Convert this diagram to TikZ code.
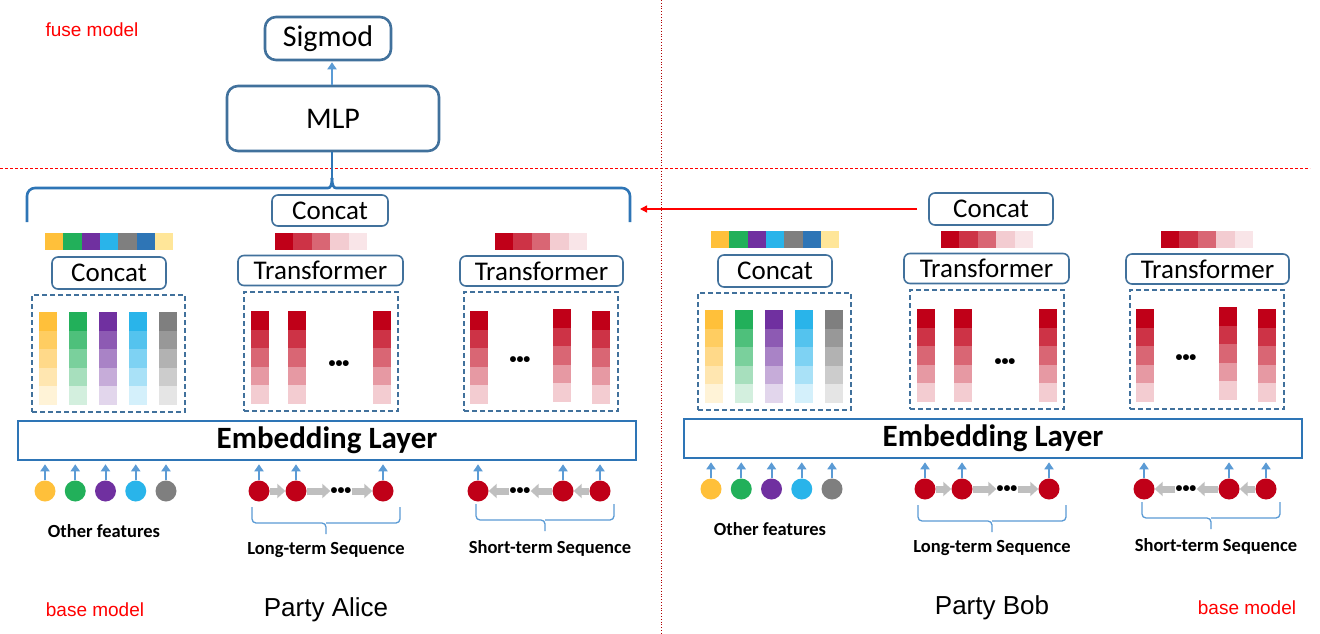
\documentclass[tikz,border=0pt]{standalone}
\usepackage{fontspec}
\setmainfont{Carlito}
\newfontfamily\labelfont{Liberation Sans}
\usepackage{tikz}
\usetikzlibrary{arrows.meta,positioning}

\definecolor{boxblue}{HTML}{41719C}
\definecolor{layerblue}{HTML}{2E75B6}
\definecolor{arrowblue}{HTML}{5B9BD5}
\definecolor{flowgray}{HTML}{BFBFBF}
\definecolor{fyellow}{HTML}{FFC03A}
\definecolor{fgreen}{HTML}{22B05A}
\definecolor{fpurple}{HTML}{7030A0}
\definecolor{fcyan}{HTML}{29B4EA}
\definecolor{fgray}{HTML}{7F7F7F}
\definecolor{fblue}{HTML}{2E75B6}
\definecolor{flight}{HTML}{FFE699}
\definecolor{seqred}{HTML}{C00018}
\definecolor{linkred}{HTML}{FF0000}
\definecolor{splitred}{HTML}{B00000}

% horizontal strip of feature colours
\newcommand{\featstrip}[2]{%
  \foreach \c [count=\k from 0] in {fyellow,fgreen,fpurple,fcyan,fgray,fblue,flight}
    \fill[\c] (#1+\k*18.3,#2) rectangle ++(18.3,17);}
% horizontal strip of sequence shades
\newcommand{\seqstrip}[2]{%
  \foreach \lvl [count=\k from 0] in {100,80,60,20,10}
    \fill[seqred!\lvl] (#1+\k*18.4,#2) rectangle ++(18.4,17);}
% vertical embedding column
\newcommand{\featcol}[3]{%
  \foreach \lvl [count=\k from 0] in {100,80,60,40,20}
    \fill[#3!\lvl] (#1,#2+\k*18.6) rectangle ++(18,18.6);}
% brace under a sequence
\newcommand{\seqbrace}[4]{%
  \draw[sbrace] (#1,#3) |- (#4,#3+16) -- (#4,#3+27);
  \draw[sbrace] (#2,#3) |- (#4,#3+16);}

\begin{document}
\begin{tikzpicture}[x=1pt, y=-1pt,
    box/.style={draw=boxblue, line width=1.6pt, rounded corners=6pt, fill=white, inner sep=0pt, font=\fontsize{27}{30}\selectfont},
    bigbox/.style={box, line width=2.6pt, rounded corners=11pt},
    layer/.style={draw=layerblue, line width=2.6pt, minimum width=618pt, minimum height=39pt, inner sep=0pt, font=\bfseries\fontsize{31}{34}\selectfont},
    group/.style={draw=boxblue, line width=1.3pt, dash pattern=on 5pt off 3pt, minimum width=154pt, minimum height=119pt, inner sep=0pt},
    token/.style={circle, minimum size=21pt, inner sep=0pt},
    dots/.style={inner sep=0pt, font=\bfseries\fontsize{14}{14}\selectfont},
    up/.style={draw=arrowblue, line width=2pt, -{Triangle[length=7pt,width=9pt]}, shorten >=3pt},
    flow/.style={draw=flowgray, line width=7pt, -{Triangle[length=8pt,width=14pt]}},
    sbrace/.style={draw=arrowblue, line width=1.3pt, rounded corners=4pt},
    tag/.style={font=\labelfont\fontsize{19}{22}\selectfont, text=linkred},
    caption/.style={font=\bfseries\fontsize{18.5}{22}\selectfont},
    party/.style={font=\labelfont\fontsize{26}{30}\selectfont}
]
\useasboundingbox[fill=white] (0,0) rectangle (1320,634);

% split lines
\draw[linkred, line width=0.8pt, dash pattern=on 3pt off 2pt] (0,168) -- (1310,168);
\draw[splitred, line width=0.8pt, dotted] (661,0) -- (661,634);

% fuse model
\node[tag] (fuse) at (92,30) {fuse model};
\node[bigbox, minimum width=126pt, minimum height=43pt, font=\fontsize{30}{34}\selectfont] (sig) at (328,38.5) {Sigmod};
\node[bigbox, minimum width=212pt, minimum height=65pt, font=\fontsize{30}{34}\selectfont] (mlp) at (333,118.5) {MLP};
\draw[up, shorten >=1pt] (mlp.north -| 332,0) -- (sig.south -| 332,0);
\coordinate (tip) at (332,178);
\draw[layerblue, line width=2.6pt, rounded corners=8pt] (27,222) -- (27,188) -- (320,188) .. controls (330,188) and (332,186) .. (tip);
\draw[layerblue, line width=2.6pt, rounded corners=8pt] (630,222) -- (630,188) -- (344,188) .. controls (334,188) and (332,186) .. (tip);
\draw[layerblue, line width=2.6pt] (mlp.south -| tip) -- (tip);
\node[box, minimum width=116pt, minimum height=31pt] (fcat) at (330,210.5) {Concat};

% base models
\foreach \p/\dx/\dy/\who/\bx in {alice/0/0/Alice/95, bob/666/-2/Bob/581} {
\begin{scope}[shift={(\dx,\dy)}]
  % other features
  \featstrip{45}{233}
  \node[box, minimum width=114pt, minimum height=32pt] (\p-cat) at (109,273) {Concat};
  \node[group, minimum width=153pt, minimum height=117pt] (\p-fg) at (108.5,353.5) {};
  \foreach \c [count=\i from 0] in {fyellow,fgreen,fpurple,fcyan,fgray}
    \featcol{39+\i*30}{312}{\c};
  % long-term
  \seqstrip{275}{233}
  \node[box, minimum width=165pt, minimum height=30pt] (\p-ltr) at (320.5,270.5) {Transformer};
  \node[group] (\p-lg) at (321,351.5) {};
  \foreach \x in {251,288,373} \featcol{\x}{311}{seqred};
  \node[dots] (\p-lgd) at (339,364) {•••};
  % short-term
  \seqstrip{495}{233}
  \node[box, minimum width=163pt, minimum height=30pt] (\p-str) at (541.5,271) {Transformer};
  \node[group] (\p-sg) at (541,351.5) {};
  \featcol{470}{311}{seqred}
  \featcol{553}{309}{seqred}
  \featcol{592}{311}{seqred}
  \node[dots] (\p-sgd) at (520,360) {•••};
  % embedding
  \node[layer] (\p-emb) at (327,440.5) {Embedding Layer};
  % inputs
  \foreach \c [count=\i] in {fyellow,fgreen,fpurple,fcyan,fgray} {
    \node[token, fill=\c] (\p-o\i) at (14.75+\i*30.25,491) {};
    \draw[up] (\p-o\i) -- (\p-o\i |- \p-emb.south);
  }
  \node[token, fill=seqred] (\p-l1) at (259,491) {};
  \node[token, fill=seqred] (\p-l2) at (296,491) {};
  \node[dots] (\p-lx) at (341,491) {•••};
  \node[token, fill=seqred] (\p-l3) at (383,491) {};
  \draw[flow] (\p-l1) -- (\p-l2);
  \draw[flow] (\p-l2) -- (\p-lx);
  \draw[flow] (\p-lx) -- (\p-l3);
  \node[token, fill=seqred] (\p-s1) at (478,491) {};
  \node[dots] (\p-sx) at (520,491) {•••};
  \node[token, fill=seqred] (\p-s2) at (563,491) {};
  \node[token, fill=seqred] (\p-s3) at (600,491) {};
  \draw[flow] (\p-s3) -- (\p-s2);
  \draw[flow] (\p-s2) -- (\p-sx);
  \draw[flow] (\p-sx) -- (\p-s1);
  \foreach \n in {l1,l2,l3,s1,s2,s3}
    \draw[up] (\p-\n) -- (\p-\n |- \p-emb.south);
  % braces and captions
  \seqbrace{252}{400}{507}{326}
  \seqbrace{476}{614}{504}{545}
  \node[caption] (\p-oc) at (104,531) {Other features};
  \node[caption] (\p-lc) at (326,550) {Long-term Sequence};
  \node[caption] (\p-sc) at (550,548) {Short-term Sequence};
  \node[party] (\p-name) at (326,610) {Party \who};
  \node[tag] (\p-base) at (\bx,610) {base model};
\end{scope}
}

% bob sends to fuse model
\node[box, minimum width=124pt, minimum height=32pt] (bcat) at (991,209) {Concat};
\coordinate (fin) at (640,209);
\draw[linkred, line width=1.3pt, -{Triangle[length=7pt,width=7pt]}, shorten <=11pt] (bcat.west) -- (fin);
\end{tikzpicture}
\end{document}
